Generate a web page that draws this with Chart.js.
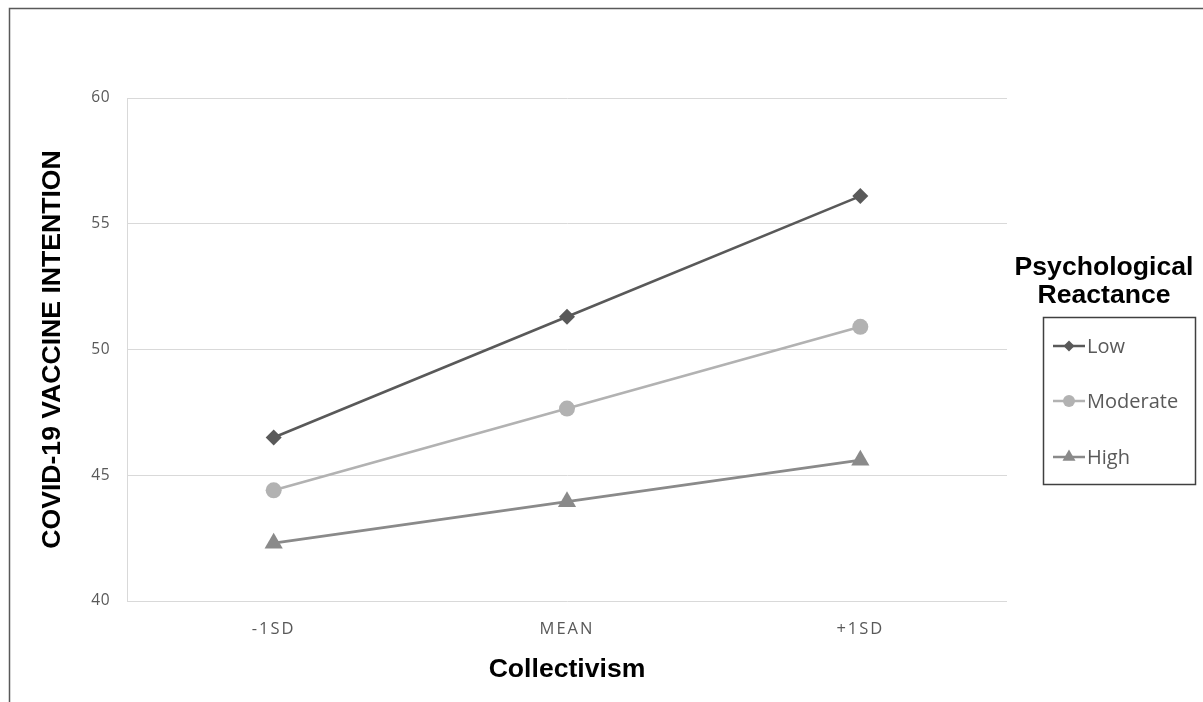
<!DOCTYPE html>
<html>
<head>
<meta charset="utf-8">
<style>
  html, body { margin: 0; padding: 0; background: #ffffff; }
  #wrap { position: relative; width: 1203px; height: 702px; }
</style>
<script src="https://cdn.jsdelivr.net/npm/chart.js@4/dist/chart.umd.min.js"></script>
</head>
<body>
<div id="wrap"><canvas id="c" width="1203" height="702"></canvas></div>
<script>
const categories = ['-1SD', 'MEAN', '+1SD'];
const lowValues = [46.5, 51.3, 56.1];
const moderateValues = [44.4, 47.65, 50.9];
const highValues = [42.3, 43.95, 45.6];
const seriesNames = ['Low', 'Moderate', 'High'];
const yTicks = [40, 45, 50, 55, 60];
const xTitle = 'Collectivism';
const yTitle = 'COVID-19 VACCINE INTENTION';
const legendTitle = ['Psychological', 'Reactance'];

const colors = ['#595959', '#b2b2b2', '#8a8a8a'];
const styles = ['rectRot', 'circle', 'triangle'];
const radii = [8, 8, 10.5];
const legendRadii = [5.5, 6, 7.5];

function drawMarker(ctx, style, r, x, y, color) {
  ctx.save();
  ctx.fillStyle = color;
  ctx.beginPath();
  if (style === 'circle') {
    ctx.arc(x, y, r, 0, Math.PI * 2);
  } else if (style === 'rectRot') {
    ctx.moveTo(x, y - r); ctx.lineTo(x + r, y); ctx.lineTo(x, y + r); ctx.lineTo(x - r, y);
  } else {
    const w = r * Math.sqrt(3);
    ctx.moveTo(x, y - r); ctx.lineTo(x + w / 2, y + r / 2); ctx.lineTo(x - w / 2, y + r / 2);
  }
  ctx.closePath();
  ctx.fill();
  ctx.restore();
}

function spaceLabels(scale, spacing) {
  if (!scale || scale._spacedLabels) return;
  const orig = scale.drawLabels;
  scale.drawLabels = function (area) {
    const ctx = this.ctx;
    ctx.save();
    ctx.letterSpacing = spacing;
    orig.call(this, area);
    ctx.restore();
  };
  scale._spacedLabels = true;
}

const decor = {
  id: 'decor',
  beforeDraw(chart) {
    spaceLabels(chart.scales.x, '2px');
    spaceLabels(chart.scales.y, '0.5px');
    const ctx = chart.ctx;
    ctx.save();
    ctx.strokeStyle = '#595959';
    ctx.lineWidth = 1.5;
    ctx.beginPath();
    ctx.moveTo(9.5, 710); ctx.lineTo(9.5, 8.5); ctx.lineTo(1210, 8.5);
    ctx.stroke();
    ctx.restore();
  },
  afterDraw(chart) {
    const ctx = chart.ctx;
    ctx.save();
    ctx.fillStyle = '#000000';
    ctx.font = 'bold 26.6px "Liberation Sans", Arial, sans-serif';
    ctx.textAlign = 'center';
    ctx.textBaseline = 'alphabetic';
    ctx.fillText(legendTitle[0], 1104, 275);
    ctx.fillText(legendTitle[1], 1104, 303);
    ctx.strokeStyle = '#404040';
    ctx.lineWidth = 1.5;
    ctx.strokeRect(1043.5, 317.5, 152, 167);
    const ys = [346, 401, 457];
    chart.data.datasets.forEach((ds, i) => {
      const y = ys[i];
      ctx.strokeStyle = ds.borderColor;
      ctx.lineWidth = 2.5;
      ctx.beginPath();
      ctx.moveTo(1053, y); ctx.lineTo(1085, y);
      ctx.stroke();
      drawMarker(ctx, styles[i], legendRadii[i], 1069, y, ds.borderColor);
      ctx.fillStyle = '#595959';
      ctx.font = '20px "Open Sans", sans-serif';
      ctx.textAlign = 'left';
      ctx.textBaseline = 'middle';
      ctx.fillText(ds.label, 1087, y + 1);
    });
    ctx.restore();
  }
};

const dataSets = [lowValues, moderateValues, highValues].map((vals, i) => ({
  label: seriesNames[i],
  data: vals,
  borderColor: colors[i],
  backgroundColor: colors[i],
  pointBackgroundColor: colors[i],
  pointBorderColor: colors[i],
  pointBorderWidth: 0,
  pointStyle: styles[i],
  pointRadius: radii[i],
  pointHoverRadius: radii[i],
  borderWidth: 2.6,
  tension: 0
}));

new Chart(document.getElementById('c'), {
  type: 'line',
  data: { labels: categories, datasets: dataSets },
  plugins: [decor],
  options: {
    responsive: false,
    animation: false,
    events: [],
    layout: { padding: { top: 98, right: 196, left: 0, bottom: 0 } },
    plugins: { legend: { display: false }, tooltip: { enabled: false } },
    scales: {
      x: {
        offset: true,
        grid: { display: false, drawTicks: false },
        border: { display: false },
        ticks: {
          padding: 18,
          color: '#595959',
          font: { family: '"Open Sans", sans-serif', size: 16.5 }
        },
        title: {
          display: true,
          text: xTitle,
          color: '#000000',
          font: { family: '"Liberation Sans", Arial, sans-serif', size: 26.6, weight: 'bold' },
          padding: { top: 0, bottom: 16 }
        },
        afterFit(scale) { scale.height = 101; }
      },
      y: {
        min: 40,
        max: 60,
        afterBuildTicks(scale) { scale.ticks = yTicks.map(v => ({ value: v })); },
        grid: { color: '#d9d9d9', lineWidth: 1, drawTicks: false },
        border: { display: true, color: '#d9d9d9', width: 1 },
        ticks: {
          padding: 17,
          color: '#595959',
          font: { family: '"Open Sans", sans-serif', size: 15.5 }
        },
        title: {
          display: true,
          text: yTitle,
          color: '#000000',
          font: { family: '"Liberation Sans", Arial, sans-serif', size: 26.6, weight: 'bold' },
          padding: { top: 37, bottom: 0 }
        },
        afterFit(scale) { scale.width = 127; }
      }
    }
  }
});
</script>
</body>
</html>
